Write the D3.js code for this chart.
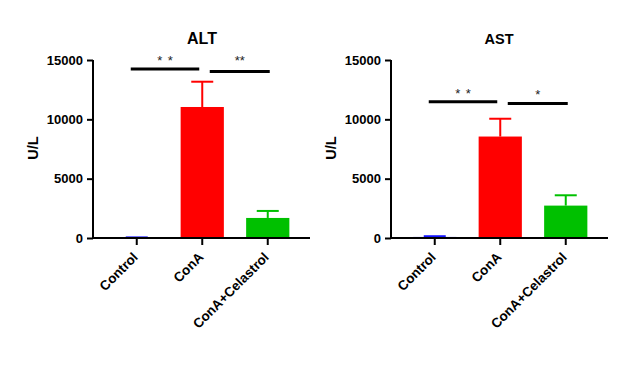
<!DOCTYPE html>
<html>
<head>
<meta charset="utf-8">
<script src="https://cdn.jsdelivr.net/npm/d3@7"></script>
<style>
  html, body { margin: 0; padding: 0; background: #fff; }
  svg { display: block; }
  text { font-family: "Liberation Sans", Arial, sans-serif; }
</style>
</head>
<body>
<svg id="chart" width="634" height="365"></svg>
<script>
// ---- data ----
const categories = ["Control", "ConA", "ConA+Celastrol"];
const colors = ["#1414ff", "#ff0000", "#00c000"];
const yTicks = [0, 5000, 10000, 15000];

const altMeans = [30, 11040, 1690];
const altErrors = [20, 2130, 590];
const astMeans = [90, 8550, 2730];
const astErrors = [60, 1500, 870];

const altSig = [
  { from: 0, to: 1, level: 14240, label: "* *" },
  { from: 1, to: 2, level: 14030, label: "**" }
];
const astSig = [
  { from: 0, to: 1, level: 11480, label: "* *" },
  { from: 1, to: 2, level: 11340, label: "*" }
];

const svg = d3.select("#chart");

function panel(cfg) {
  const g = svg.append("g").attr("transform", `translate(${cfg.x},0)`);
  const y = d3.scaleLinear().domain([0, 15000]).range([238, 60]);
  const x = d3.scaleBand().domain(categories).range([11, 207.5]).paddingInner(0.34).paddingOuter(0.17);
  const bw = x.bandwidth();
  const cx = c => x(c) + bw / 2;

  // title
  g.append("text").attr("x", cfg.titleX).attr("y", 44)
    .attr("text-anchor", "middle").attr("font-weight", "bold")
    .attr("font-size", cfg.titleSize).text(cfg.title);

  // y label
  g.append("text").attr("transform", `translate(${cfg.ylabX},148) rotate(-90)`)
    .attr("text-anchor", "middle").attr("font-weight", "bold")
    .attr("font-size", 14.5).text("U/L");

  // bars
  g.selectAll("rect.bar").data(categories).enter().append("rect")
    .attr("x", c => x(c)).attr("width", bw)
    .attr("y", (c, i) => y(cfg.means[i]))
    .attr("height", (c, i) => y(0) - y(cfg.means[i]))
    .attr("fill", (c, i) => colors[i]);

  // error bars (upper only)
  categories.forEach((c, i) => {
    const top = y(cfg.means[i] + cfg.errors[i]);
    g.append("line").attr("x1", cx(c)).attr("x2", cx(c))
      .attr("y1", y(cfg.means[i])).attr("y2", top)
      .attr("stroke", colors[i]).attr("stroke-width", 2);
    g.append("line").attr("x1", cx(c) - 11).attr("x2", cx(c) + 11)
      .attr("y1", top).attr("y2", top)
      .attr("stroke", colors[i]).attr("stroke-width", 2);
  });

  // y axis
  const yAxis = d3.axisLeft(y).tickValues(yTicks).tickSize(6).tickPadding(4).tickFormat(d3.format("d"));
  const ya = g.append("g").call(yAxis);
  ya.select(".domain").attr("stroke-width", 2).attr("d", `M0,${y(15000)}V${y(0) + 1}`);
  ya.selectAll(".tick line").attr("stroke-width", 2);
  ya.selectAll(".tick text").attr("font-size", 13).attr("font-weight", "bold")
    .attr("font-family", '"Liberation Sans", Arial, sans-serif').attr("fill", "#000");

  // x axis
  const xa = g.append("g").attr("transform", `translate(0,${y(0)})`);
  xa.append("line").attr("x1", -1).attr("x2", 217).attr("y1", 0).attr("y2", 0)
    .attr("stroke", "#000").attr("stroke-width", 2);
  categories.forEach(c => {
    xa.append("line").attr("x1", cx(c)).attr("x2", cx(c)).attr("y1", 0).attr("y2", 7)
      .attr("stroke", "#000").attr("stroke-width", 2);
    xa.append("text").attr("transform", `translate(${cx(c) + 2},${20}) rotate(-45)`)
      .attr("text-anchor", "end").attr("font-weight", "bold").attr("font-size", 13.4)
      .text(c);
  });

  // significance
  cfg.sig.forEach((s, k) => {
    const x1 = cx(categories[s.from]) + (k === 0 ? -6 : 7.5);
    const x2 = cx(categories[s.to]) + (k === 0 ? -3 : 2);
    const ly = y(s.level);
    g.append("line").attr("x1", x1).attr("x2", x2).attr("y1", ly).attr("y2", ly)
      .attr("stroke", "#000").attr("stroke-width", 3);
    g.append("text").attr("x", (x1 + x2) / 2).attr("y", ly + cfg.starDy[k])
      .attr("text-anchor", "middle").attr("font-size", 13).attr("fill", "#222")
      .attr("word-spacing", 2)
      .attr("xml:space", "preserve").text(s.label);
  });
}

panel({ x: 93, title: "ALT", titleX: 109, titleSize: 16, ylabX: -55, means: altMeans, errors: altErrors, sig: altSig, starDy: [-4, -7] });
panel({ x: 391, title: "AST", titleX: 108, titleSize: 14.5, ylabX: -55, means: astMeans, errors: astErrors, sig: astSig, starDy: [-4, -4] });
</script>
</body>
</html>
